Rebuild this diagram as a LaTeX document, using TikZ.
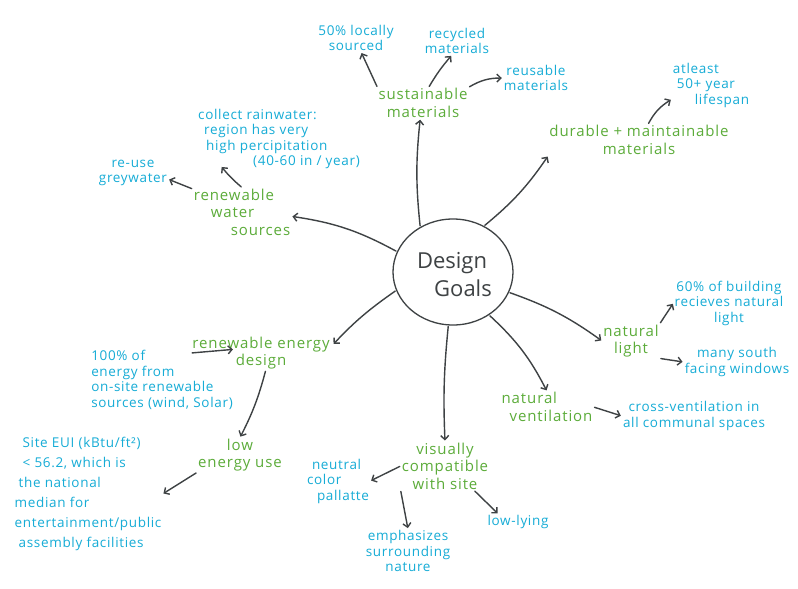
\documentclass[tikz,border=0pt]{standalone}
\usepackage{fontspec}
\setmainfont{Open Sans}
\usetikzlibrary{arrows.meta,shapes.geometric}
\definecolor{leaf}{RGB}{92,172,58}
\definecolor{aqua}{RGB}{22,172,214}
\definecolor{ink}{RGB}{62,66,68}
\newfontfamily\wideleaf[LetterSpace=6]{Open Sans}
\newfontfamily\wideaqua[LetterSpace=5]{Open Sans}
\begin{document}
\begin{tikzpicture}[x=1pt,y=-1pt,
  goal/.style={font=\wideleaf\fontsize{15}{17.5}\selectfont, text=leaf, align=center, inner sep=1pt},
  idea/.style={font=\wideaqua\fontsize{13.5}{15.5}\selectfont, text=aqua, align=center, inner sep=1pt},
  link/.style={draw=ink, line width=1.4pt, line cap=round, -{Straight Barb[length=4pt,width=8pt]}, shorten >=1pt, shorten <=1pt}]
\useasboundingbox[fill=white] (0,0) rectangle (798,589);

% centre
\node[ellipse, draw=ink, line width=1.3pt, minimum width=120pt, minimum height=106pt, inner sep=0pt] (goals) at (453,272) {};
\node[font=\fontsize{22}{28}\selectfont, text=ink, align=center] (goalstext) at (452,275) {Design\hspace{22pt}\\\hspace{22pt}Goals};

% main goals
\node[goal] (sust) at (423,103) {sustainable\\materials};
\node[goal] (dur) at (639,140) {durable + maintainable\\materials};
\node[goal, align=left] (water) at (242,212) {renewable\\\hspace{17pt}water\\\hspace{37pt}sources};
\node[goal] (light) at (631,341) {natural\\light};
\node[goal, align=left] (vent) at (547,407) {natural\\\hspace{8pt}ventilation};
\node[goal] (visual) at (445,466) {visually\\compatible\\with site};
\node[goal] (energy) at (261,353) {renewable energy\\design};
\node[goal] (lowuse) at (240,455) {low\\energy use};

% details
\node[idea] (local) at (356,38) {50\% locally\\sourced};
\node[idea] (recyc) at (457,41) {recycled\\materials};
\node[idea] (reuse) at (536,78) {reusable\\materials};
\node[idea, align=left] (life) at (711,85) {atleast\\\hspace{4pt}50+ year\\\hspace{22pt}lifespan};
\node[idea, align=left] (collect) at (279,139) {collect rainwater:\\\hspace{6pt}region has very\\\hspace{8pt}high percipitation\\\hspace{55pt}(40-60 in / year)};
\node[idea] (grey) at (133,173) {re-use\\greywater};
\node[idea] (pct) at (729,303) {60\% of building\\recieves natural\\light};
\node[idea] (south) at (737,362) {many south\\facing windows};
\node[idea] (cross) at (694,416) {cross-ventilation in\\all communal spaces};
\node[idea, align=left] (neutral) at (338,481) {\hspace{5pt}neutral\\color\\\hspace{10pt}pallatte};
\node[idea] (emph) at (408,551) {emphasizes\\surrounding\\nature};
\node[idea] (lying) at (518,522) {low-lying};
\node[idea, align=left] (hundred) at (162,380) {100\% of\\energy from\\on-site renewable\\sources (wind, Solar)};
\node[idea, align=left, font=\wideaqua\fontsize{13.5}{20}\selectfont] (site) at (88,494) {\hspace{8pt}Site EUI (kBtu/ft²)\\\hspace{8pt}< 56.2, which is\\\hspace{4pt}the national\\median for\\entertainment/public\\\hspace{4pt}assembly facilities};

% connectors from the centre
\draw[link] (goals.126) to[bend left=6] (sust.260);
\draw[link] (goals.56) to[bend right=8] (dur.south west);
\draw[link] (goals.160) to[bend right=10] (water.-5);
\draw[link, shorten >=4pt] (goals.198) to[bend right=6] (energy.5);
\draw[link] (goals.-20) to[bend left=8] (light.west);
\draw[link] (goals.-50) to[bend left=10] (vent.north);
\draw[link] (goals.-95) to[bend right=4] (visual.north);

% secondary connectors
\draw[link] (sust.north west) -- (local.-70);
\draw[link] (sust.70) to[bend left=5] (recyc.-110);
\draw[link] (sust.north east) to[bend left=15] (reuse.west);
\draw[link] (dur.60) to[bend left=15] (life.200);
\draw[link] (water.north) to[bend left=5] ([xshift=24pt,yshift=4pt]collect.south west);
\draw[link] (water.155) -- (grey.-10);
\draw[link] (light.north east) -- (pct.west);
\draw[link] (light.south east) -- (south.west);
\draw[link] (vent.east) -- (cross.west);
\draw[link] (visual.west) -- (neutral.east);
\draw[link] (visual.south west) -- (emph.north);
\draw[link] (visual.-40) -- ([xshift=12pt]lying.north west);
\draw[link] (energy.west) -- (hundred.north east);
\draw[link] (energy.-75) to[bend left=6] (lowuse.north);
\draw[link] (lowuse.south west) -- (site.east);
\end{tikzpicture}
\end{document}
